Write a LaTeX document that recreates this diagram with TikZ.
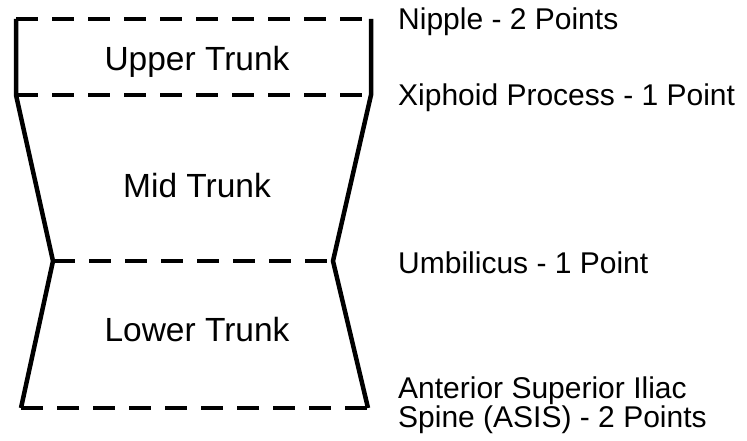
\documentclass[tikz,border=0pt]{standalone}
\usepackage{fontspec}
\setmainfont{Liberation Sans}

\begin{document}
\begin{tikzpicture}[x=1pt,y=-1pt,
        side/.style={line width=4.5pt, line join=miter},
        level/.style={line width=4.5pt, dash pattern=on 22pt off 14pt},
        region/.style={font=\fontsize{33.5}{40}\selectfont,
        anchor=base, inner sep=0pt},
        landmark/.style={font=\fontsize{30}{28.5}\selectfont,
        anchor=base west, inner sep=0pt, align=left},
        ]

        \useasboundingbox (0,0) rectangle (747,441);

        \coordinate (nl) at (16,19);
        \coordinate (nr) at (371,19);
        \coordinate (xl) at (16,95);
        \coordinate (xr) at (371,95);
        \coordinate (ul) at (53,261);
        \coordinate (ur) at (333,261);
        \coordinate (al) at (21,408);
        \coordinate (ar) at (368,408);

        \draw[side] (nl) -- (xl) -- (ul) -- (al);
        \draw[side] (nr) -- (xr) -- (ur) -- (ar);

        \draw[level] (nl) -- (nr);
        \draw[level] (xl) -- (xr);
        \draw[level] (ul) -- (ur);
        \draw[level] (al) -- (ar);

        \node (upper) [region] at (197,71) {Upper Trunk};
        \node (mid)   [region] at (197,197) {Mid Trunk};
        \node (lower) [region] at (197,341) {Lower Trunk};

        \node (nipple)   [landmark] at (398,30) {Nipple - 2 Points};
        \node (xiphoid)  [landmark] at (398,106) {Xiphoid Process - 1 Point};
        \node (umbil)    [landmark] at (398,273) {Umbilicus - 1 Point};
        \node (asis)     [landmark] at (398,427) {Anterior Superior Iliac\\Spine (ASIS) - 2 Points};
\end{tikzpicture}
\end{document}
